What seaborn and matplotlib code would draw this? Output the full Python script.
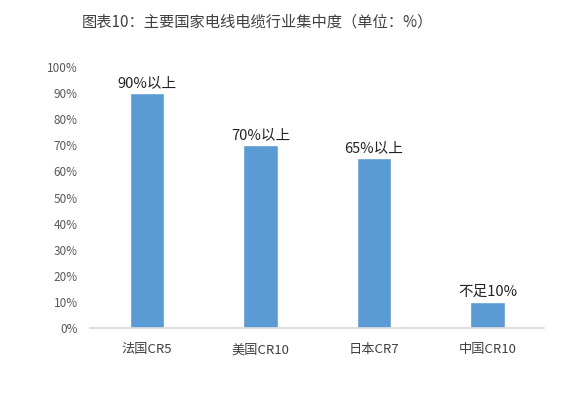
import matplotlib.pyplot as plt
import seaborn as sns
import pandas as pd
from matplotlib.ticker import PercentFormatter

categories = ["法国CR5", "美国CR10", "日本CR7", "中国CR10"]
values = [90, 70, 65, 10]
labels = ["90%以上", "70%以上", "65%以上", "不足10%"]

sns.set_theme(style="white")
plt.rcParams['font.family'] = ['Noto Sans CJK SC', 'DejaVu Sans']

df = pd.DataFrame({"country": categories, "share": values})

fig = plt.figure(figsize=(5.64, 3.93), dpi=100)
ax = fig.add_axes([0.16, 0.1654, 0.805, 0.664])
sns.barplot(data=df, x="country", y="share", color="#5B9BD5", width=0.3,
            saturation=1, ax=ax)

for i, (v, t) in enumerate(zip(values, labels)):
    ax.text(i, v + 1.2, t, ha="center", va="bottom", fontsize=10.5, color="#222222")

ax.set_ylim(0, 100)
ax.set_yticks(range(0, 101, 10))
ax.yaxis.set_major_formatter(PercentFormatter(decimals=0))
ax.set_xlabel("")
ax.set_ylabel("")
ax.tick_params(axis="y", labelsize=8.5, colors="#595959", length=0, pad=9)
ax.tick_params(axis="x", labelsize=9.5, colors="#404040", length=0, pad=11)
for s in ["top", "right", "left"]:
    ax.spines[s].set_visible(False)
ax.spines["bottom"].set_color("#D9D9D9")

fig.text(0.456, 0.945, "图表10：主要国家电线电缆行业集中度（单位：%）",
         ha="center", va="center", fontsize=11, color="#404040")

fig.savefig("out.png", dpi=100)
